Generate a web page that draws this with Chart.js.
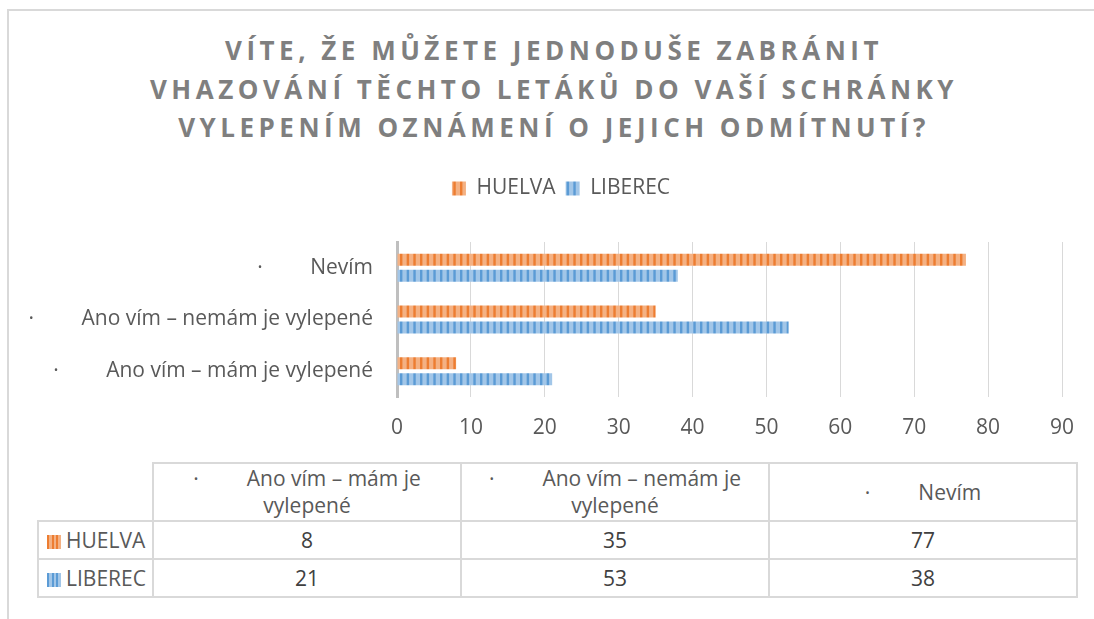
<!DOCTYPE html>
<html>
<head>
<meta charset="utf-8">
<script src="https://cdn.jsdelivr.net/npm/chart.js@4.4.0/dist/chart.umd.min.js"></script>
<style>
html, body { margin: 0; padding: 0; background: #fff; }
body { width: 1094px; height: 619px; position: relative; overflow: hidden; font-family: "Open Sans", sans-serif; color: #595959; }
#frame { position: absolute; left: 7px; top: 9px; width: 1100px; height: 620px; border-top: 2px solid #d9d9d9; border-left: 2px solid #d9d9d9; }
#title { position: absolute; left: 7px; width: 1094px; top: 31px; text-align: center; font-weight: bold; font-size: 26px; line-height: 38.5px; letter-spacing: 4.5px; color: #7f7f7f; }
#chart { position: absolute; left: 0; top: 150px; }
#dataTable { position: absolute; left: 37px; top: 462px; width: 1039px; border-collapse: collapse; table-layout: fixed; font-size: 21px; color: #404040; }
#dataTable td { border: 2px solid #d9d9d9; text-align: center; padding: 0 16px; }
#dataTable tr.head td { height: 56px; line-height: 27px; color: #595959; }
#dataTable tr.row td { height: 36px; }
#dataTable td.corner { border-top: hidden; border-left: hidden; }
#dataTable td.name { text-align: left; padding: 0 0 0 8px; color: #595959; }
.dot { margin-right: 48px; }
.key { display: inline-block; width: 14px; height: 14px; margin-right: 5px; vertical-align: -1px; }
</style>
</head>
<body>
<div id="frame"></div>
<div id="title"></div>
<canvas id="chart" width="1094" height="300"></canvas>
<table id="dataTable"></table>
<script>
// data (table / source order, Excel draws the first category at the bottom)
var titleLines = ['VÍTE, ŽE MŮŽETE JEDNODUŠE ZABRÁNIT', 'VHAZOVÁNÍ TĚCHTO LETÁKŮ DO VAŠÍ SCHRÁNKY', 'VYLEPENÍM OZNÁMENÍ O JEJICH ODMÍTNUTÍ?'];
var categories = ['Ano vím – mám je vylepené', 'Ano vím – nemám je vylepené', 'Nevím'];
var seriesNames = ['HUELVA', 'LIBEREC'];
var huelva = [8, 35, 77];
var liberec = [21, 53, 38];
var xMin = 0, xMax = 90, xStep = 10;

var colors = [
	{ light: '#F4B183', dark: '#ED7D31' },
	{ light: '#A2C6E8', dark: '#5B9BD5' }
];

document.getElementById('title').innerHTML = titleLines.join('<br>');

// striped fill like the office "wide vertical" pattern
function stripes(c) {
	var cv = document.createElement('canvas');
	cv.width = 20; cv.height = 20;
	var g = cv.getContext('2d');
	g.fillStyle = c.light;
	g.fillRect(0, 0, 20, 20);
	g.fillStyle = c.dark;
	for (var i = 0; i < 3; i++) g.fillRect(i * 20 / 3, 0, 2.4, 20);
	return g.createPattern(cv, 'repeat');
}

// chart is drawn top to bottom, so reverse the source order
var seriesData = [huelva, liberec];
var datasets = seriesNames.map(function(name, i){
	return {
		label: name,
		data: seriesData[i].slice().reverse(),
		backgroundColor: stripes(colors[i]),
		borderWidth: 0,
		categoryPercentage: 0.62,
		barPercentage: 0.75
	};
});
var labels = categories.slice().reverse().map(function(c){
	return '·\u2002\u2002\u2002\u2002 ' + c;
});

// extra room under the legend, and centre it a bit to the right like the original
var legendTweak = {
	id: 'legendTweak',
	beforeInit: function(chart){
		var fit = chart.legend.fit;
		chart.legend.fit = function(){
			fit.bind(chart.legend)();
			this.height += 33;
		};
	},
	afterLayout: function(chart){
		chart.legend.left += 60;
	}
};

var font = { family: 'Open Sans', size: 21 };

var ctx = document.getElementById('chart');
var barChart = new Chart(ctx, {
	type: 'bar',
	data: { labels: labels, datasets: datasets },
	plugins: [legendTweak],
	options: {
		indexAxis: 'y',
		responsive: false,
		animation: false,
		layout: { padding: { left: 0, right: 32, top: 18, bottom: 8 } },
		plugins: {
			tooltip: { enabled: false },
			legend: {
				position: 'top',
				labels: { boxWidth: 14, boxHeight: 14, padding: 10, color: '#595959', font: font }
			}
		},
		scales: {
			x: {
				min: xMin, max: xMax,
				afterFit: function(s){ s.height = 45; },
				ticks: { stepSize: xStep, padding: 18, color: '#595959', font: font },
				grid: { color: '#d9d9d9', lineWidth: 1, drawTicks: false },
				border: { display: false }
			},
			y: {
				afterFit: function(s){ s.width = 397; },
				ticks: { padding: 24, color: '#595959', font: font },
				grid: { display: false, drawTicks: false },
				border: { color: '#bfbfbf', width: 3 }
			}
		}
	}
});

// data table under the chart
var tbl = document.getElementById('dataTable');
var html = '<colgroup><col style="width:115px"><col style="width:308px"><col style="width:308px"><col style="width:308px"></colgroup>';
html += '<tr class="head"><td class="corner"></td>';
categories.forEach(function(c){ html += '<td><span class="dot">·</span>' + c + '</td>'; });
html += '</tr>';
seriesNames.forEach(function(name, i){
	html += '<tr class="row"><td class="name"><span class="key" style="background:repeating-linear-gradient(90deg,' +
		colors[i].dark + ' 0 2px,' + colors[i].light + ' 2px 4.7px)"></span>' + name + '</td>';
	seriesData[i].forEach(function(v){ html += '<td>' + v + '</td>'; });
	html += '</tr>';
});
tbl.innerHTML = html;
</script>
</body>
</html>
